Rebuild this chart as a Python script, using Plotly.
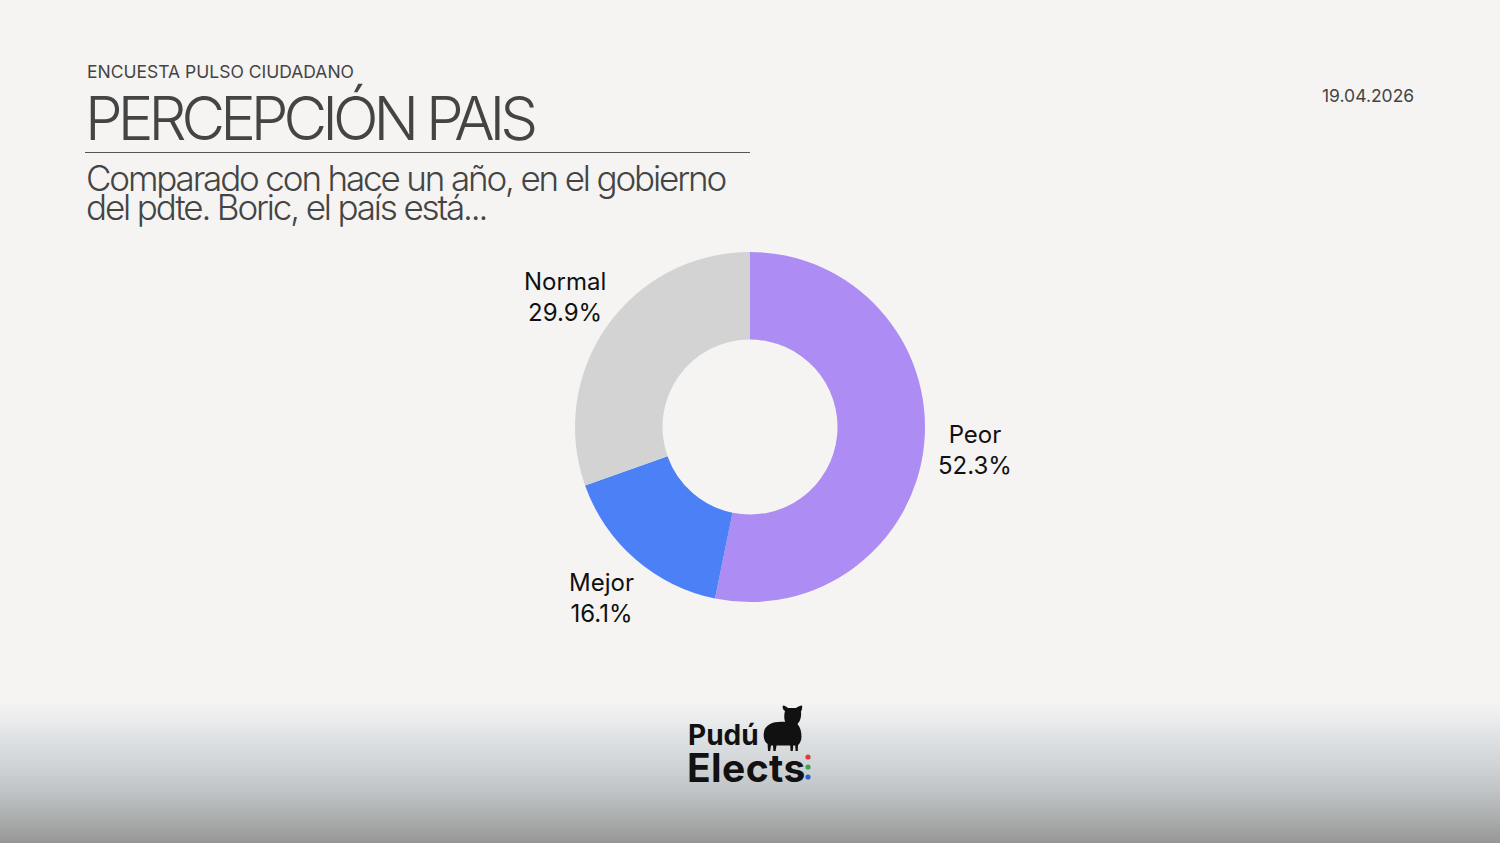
import math
import plotly.graph_objects as go

# ---- data ----
categories = ["Peor", "Mejor", "Normal"]
values = [52.3, 16.1, 29.9]
colors = ["#ad8cf3", "#4b80f6", "#d3d3d3"]

kicker = "ENCUESTA PULSO CIUDADANO"
title = "PERCEPCIÓN PAIS"
subtitle_lines = ["Comparado con hace un año, en el gobierno", "del pdte. Boric, el país está..."]
date_text = "19.04.2026"

W, H = 1500, 843
BG = "#f5f4f2"


def px(x):
    return x / W


def py(y):
    return 1 - y / H


# pie geometry (pixels)
CX, CY, R_OUT = 750, 427, 175
LABEL_R = 226

fig = go.Figure()
fig.add_trace(go.Pie(
    labels=categories,
    values=values,
    marker=dict(colors=colors, line=dict(width=0)),
    hole=0.5,
    sort=False,
    direction="clockwise",
    rotation=0,
    textinfo="none",
    domain=dict(x=[px(CX - 250), px(CX + 250)], y=[py(CY + R_OUT), py(CY - R_OUT)]),
    showlegend=False,
    hoverinfo="label+value",
))

shapes = []

# bottom gradient band
stops = [(700, (245, 244, 242)), (718, (236, 237, 237)), (735, (223, 227, 229)),
         (765, (208, 212, 214)), (795, (189, 193, 195)), (820, (170, 172, 172)), (843, (150, 150, 150))]


def col_at(y):
    for (y0, c0), (y1, c1) in zip(stops[:-1], stops[1:]):
        if y0 <= y <= y1:
            t = (y - y0) / (y1 - y0)
            return "rgb(%d,%d,%d)" % tuple(round(a + (b - a) * t) for a, b in zip(c0, c1))
    return "rgb(150,150,150)"


y = 700
while y < 843:
    shapes.append(dict(type="rect", xref="paper", yref="paper", layer="below",
                       x0=0, x1=1, y0=py(min(y + 2.5, 843)), y1=py(y),
                       fillcolor=col_at(y + 1), line=dict(width=0)))
    y += 2

# rule under the title
shapes.append(dict(type="line", xref="paper", yref="paper", x0=px(85), x1=px(750),
                   y0=py(152.5), y1=py(152.5), line=dict(color="#555555", width=1)))


# pudu silhouette (logo)
def P(a, b):
    return "%.5f,%.5f" % (px(a), py(b))


path = ("M " + P(764, 732) +
        " C " + P(765, 724) + " " + P(775, 721) + " " + P(785, 722) +
        " C " + P(784, 718) + " " + P(784, 714) + " " + P(785, 711) +
        " C " + P(783, 710) + " " + P(782, 707) + " " + P(783, 705.5) +
        " C " + P(785, 705.5) + " " + P(787, 707) + " " + P(788, 708) +
        " L " + P(796, 708) +
        " C " + P(797, 707) + " " + P(800, 705.5) + " " + P(802, 705.5) +
        " C " + P(802.5, 707) + " " + P(802, 710) + " " + P(801, 711.5) +
        " C " + P(801.5, 716) + " " + P(800.5, 721) + " " + P(797.5, 724) +
        " C " + P(800, 727) + " " + P(801.5, 731) + " " + P(801.5, 737) +
        " C " + P(801.5, 741) + " " + P(799.5, 744) + " " + P(798, 745) +
        " L " + P(797.8, 751) + " L " + P(795.6, 751) + " L " + P(795.2, 745.5) +
        " L " + P(793.2, 745.5) + " L " + P(792.8, 751) + " L " + P(790.6, 751) + " L " + P(790.2, 745.5) +
        " L " + P(776.5, 745.5) +
        " L " + P(775.6, 751) + " L " + P(773.4, 751) + " L " + P(773, 745.5) +
        " L " + P(771, 745.5) + " L " + P(770.2, 751) + " L " + P(768, 751) + " L " + P(767.6, 744) +
        " C " + P(764.5, 742) + " " + P(763, 737) + " " + P(764, 732) + " Z")
shapes.append(dict(type="path", xref="paper", yref="paper", path=path,
                   fillcolor="#111111", line=dict(width=0)))

# colored dots
for cy, c in [(757, "#e03b3b"), (767, "#3aa54a"), (777, "#2b5fd0")]:
    r = 2.6
    shapes.append(dict(type="circle", xref="paper", yref="paper",
                       x0=px(808 - r), x1=px(808 + r), y0=py(cy + r), y1=py(cy - r),
                       fillcolor=c, line=dict(width=0)))

annotations = [
    dict(text=kicker, x=px(85), y=py(71), xanchor="left", yanchor="middle",
         font=dict(family="Inter", size=17.5, color="#444444")),
    dict(text='<span style="letter-spacing:-5px">' + title + '</span>', x=px(83), y=py(118),
         xanchor="left", yanchor="middle",
         font=dict(family="Inter", size=60, color="#444444", weight=300)),
    dict(text='<span style="letter-spacing:-2.15px">' + subtitle_lines[0] + '</span>', x=px(84), y=py(178),
         xanchor="left", yanchor="middle",
         font=dict(family="Inter", size=35, color="#444444", weight=300)),
    dict(text='<span style="letter-spacing:-2.15px">' + subtitle_lines[1] + '</span>', x=px(84), y=py(207),
         xanchor="left", yanchor="middle",
         font=dict(family="Inter", size=35, color="#444444", weight=300)),
    dict(text=date_text, x=px(1416), y=py(96), xanchor="right", yanchor="middle",
         font=dict(family="Inter", size=17.5, color="#444444")),
    dict(text="<b>Pudú</b>", x=px(686), y=py(735), xanchor="left", yanchor="middle",
         font=dict(family="Inter", size=28, color="#111111")),
    dict(text='<b><span style="letter-spacing:0.4px">Elects</span></b>', x=px(685), y=py(767),
         xanchor="left", yanchor="middle",
         font=dict(family="Inter", size=39, color="#111111")),
]

# slice labels placed outside at the mid-angle of each slice (computed from the values)
total = sum(values)
cum = 0.0
for lab, v in zip(categories, values):
    mid = (cum + v / 2) / total * 2 * math.pi
    cum += v
    lx = CX + LABEL_R * math.sin(mid)
    ly = CY - LABEL_R * math.cos(mid)
    annotations.append(dict(text="%s<br>%.1f%%" % (lab, v), x=px(lx), y=py(ly),
                            xanchor="center", yanchor="middle", align="center",
                            font=dict(family="Inter", size=24, color="#111111")))

for a in annotations:
    a.update(xref="paper", yref="paper", showarrow=False)

fig.update_layout(
    width=W, height=H,
    margin=dict(l=0, r=0, t=0, b=0),
    paper_bgcolor=BG, plot_bgcolor=BG,
    shapes=shapes,
    annotations=annotations,
)

fig.write_html("out.html", config={"displayModeBar": False},
               post_script="document.body.style.margin='0';document.body.style.overflow='hidden';")
